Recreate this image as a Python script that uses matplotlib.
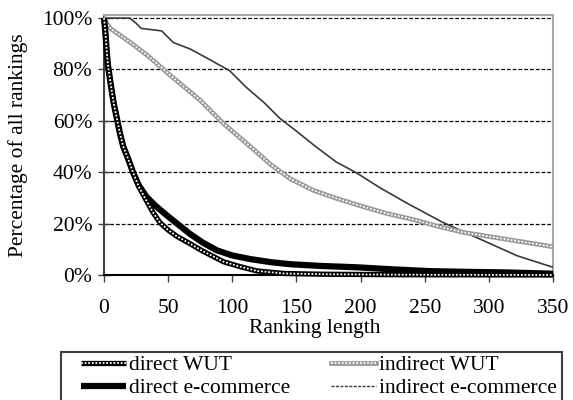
import matplotlib
matplotlib.use("Agg")
import matplotlib.pyplot as plt
from matplotlib.lines import Line2D
from matplotlib.patches import Rectangle
from matplotlib.legend_handler import HandlerTuple

# ---- data ----
direct_wut_x = [0, 1, 2, 3, 5, 7.5, 10, 12.5, 15, 19, 22.6, 27, 33, 38, 43.6, 50, 57, 67, 77, 86, 93, 105, 119, 140, 170, 233, 350]
direct_wut_y = [100, 95, 88, 82, 75, 67, 61, 55, 50, 45, 40, 34.5, 29, 24.5, 20.4, 17.5, 15, 12.2, 9.3, 7, 5.2, 3.4, 1.6, 0.6, 0.3, 0.1, 0]

direct_ecom_x = [0, 1, 2, 3, 5, 7.5, 10, 12.5, 15, 19, 22.6, 27, 33, 40, 49, 57, 67, 77, 88, 100, 114, 130, 145, 170, 197, 225, 254, 285, 314, 350]
direct_ecom_y = [100, 95, 88, 82, 75, 67, 61, 55, 50, 45, 40, 35, 30.5, 27, 23.2, 20, 16, 12.6, 9.6, 7.6, 6.2, 5, 4.2, 3.5, 3, 2.2, 1.5, 1.2, 1, 0.5]

indirect_wut_x = [0, 2, 5, 12, 22, 35, 51, 63, 75, 93, 114, 130, 145, 163, 180, 202, 220, 241, 260, 280, 300, 325, 350]
indirect_wut_y = [100, 98, 96, 93.5, 90, 85, 78, 73, 68, 59, 50, 43, 37.5, 33, 30, 26.6, 24, 21.6, 19, 16.6, 15, 13, 11]

indirect_ecom_x = [0, 20, 25, 29, 45, 54, 67, 80, 98, 111, 125, 137, 150, 165, 181, 197, 215, 236, 264, 293, 322, 350]
indirect_ecom_y = [100, 100, 98, 96, 95, 90.5, 88, 84.5, 79.5, 73, 67, 61, 56, 50, 44, 39.7, 34, 28, 20.5, 14, 7.5, 3]

x_ticks = [0, 50, 100, 150, 200, 250, 300, 350]
y_ticks = [0, 20, 40, 60, 80, 100]
y_tick_labels = ["0%", "20%", "40%", "60%", "80%", "100%"]

labels = ["direct WUT", "direct e-commerce", "indirect WUT", "indirect e-commerce"]

plt.rcParams['font.family'] = ['Liberation Serif', 'DejaVu Serif']
FS = 15.5

W, H = 573, 400
fig = plt.figure(figsize=(W / 100, H / 100), dpi=100)
ax = fig.add_axes([104 / W, 1 - 275 / H, (553 - 104) / W, (275 - 15) / H])

ax.set_xlim(0, 350)
ax.set_ylim(0, 101.2)

# gridlines
for yv in y_ticks[1:]:
    ax.axhline(yv, color='black', lw=0.9, linestyle=(0, (3, 1.6)), zorder=1)

# indirect e-commerce (thin solid)
l_ie, = ax.plot(indirect_ecom_x, indirect_ecom_y, color='#3a3a3a', lw=1.2, zorder=3)
# indirect WUT (gray with white dots)
l_iw1, = ax.plot(indirect_wut_x, indirect_wut_y, color='#999999', lw=3.4, zorder=3)
l_iw2, = ax.plot(indirect_wut_x, indirect_wut_y, color='white', lw=1.3,
                 linestyle=(0, (1, 1)), zorder=3)
# direct e-commerce (thick black)
l_de, = ax.plot(direct_ecom_x, direct_ecom_y, color='black', lw=4.5, zorder=4,
                clip_on=False, solid_capstyle='butt')
# direct WUT (black with white dots)
l_dw1, = ax.plot(direct_wut_x, direct_wut_y, color='black', lw=3.8, zorder=5,
                 clip_on=False, solid_capstyle='butt')
l_dw2, = ax.plot(direct_wut_x, direct_wut_y, color='white', lw=1.3,
                 linestyle=(0, (1, 1)), zorder=5, clip_on=False)

# spines
ax.spines['left'].set_color('#404040')
ax.spines['left'].set_linewidth(1.5)
ax.spines['bottom'].set_color('black')
ax.spines['bottom'].set_linewidth(1.5)
ax.spines['top'].set_color('#a8a8a8')
ax.spines['top'].set_linewidth(1.5)
ax.spines['right'].set_color('#a8a8a8')
ax.spines['right'].set_linewidth(1.5)

ax.set_xticks(x_ticks)
ax.set_xticklabels([str(v) for v in x_ticks], fontsize=FS)
ax.set_yticks(y_ticks)
ax.set_yticklabels(y_tick_labels, fontsize=FS)
ax.tick_params(axis='x', direction='out', length=5, width=1, pad=12, color='#404040')
ax.tick_params(axis='y', direction='inout', length=9, width=1, pad=4, color='#404040')

fig.text(18 / W, 1 - 145 / H, "Percentage of all rankings", rotation=90,
         ha='center', va='center', fontsize=FS)
fig.text(315 / W, 1 - 328 / H, "Ranking length", ha='center', va='center', fontsize=FS)

# legend frame
fig.patches.append(Rectangle((61 / W, -0.05), (562 - 61) / W, 0.05 + 1 - 352 / H,
                             transform=fig.transFigure, fill=False,
                             edgecolor='#404040', lw=1.5))

h_ie = Line2D([], [], color='#3a3a3a', lw=1.0, linestyle=(0, (2.2, 1)))
common = dict(frameon=False, fontsize=FS, handlelength=2.1, handletextpad=0.15,
              borderpad=0, borderaxespad=0, labelspacing=0.15,
              handler_map={tuple: HandlerTuple(ndivide=1)})
leg1 = fig.legend([(l_dw1, l_dw2), l_de], labels[:2], loc='upper left',
                  bbox_to_anchor=(81 / W, 1 - 355 / H), **common)
leg2 = fig.legend([(l_iw1, l_iw2), h_ie], labels[2:], loc='upper left',
                  bbox_to_anchor=(331 / W, 1 - 355 / H), **common)

fig.savefig("out.png", dpi=100)
